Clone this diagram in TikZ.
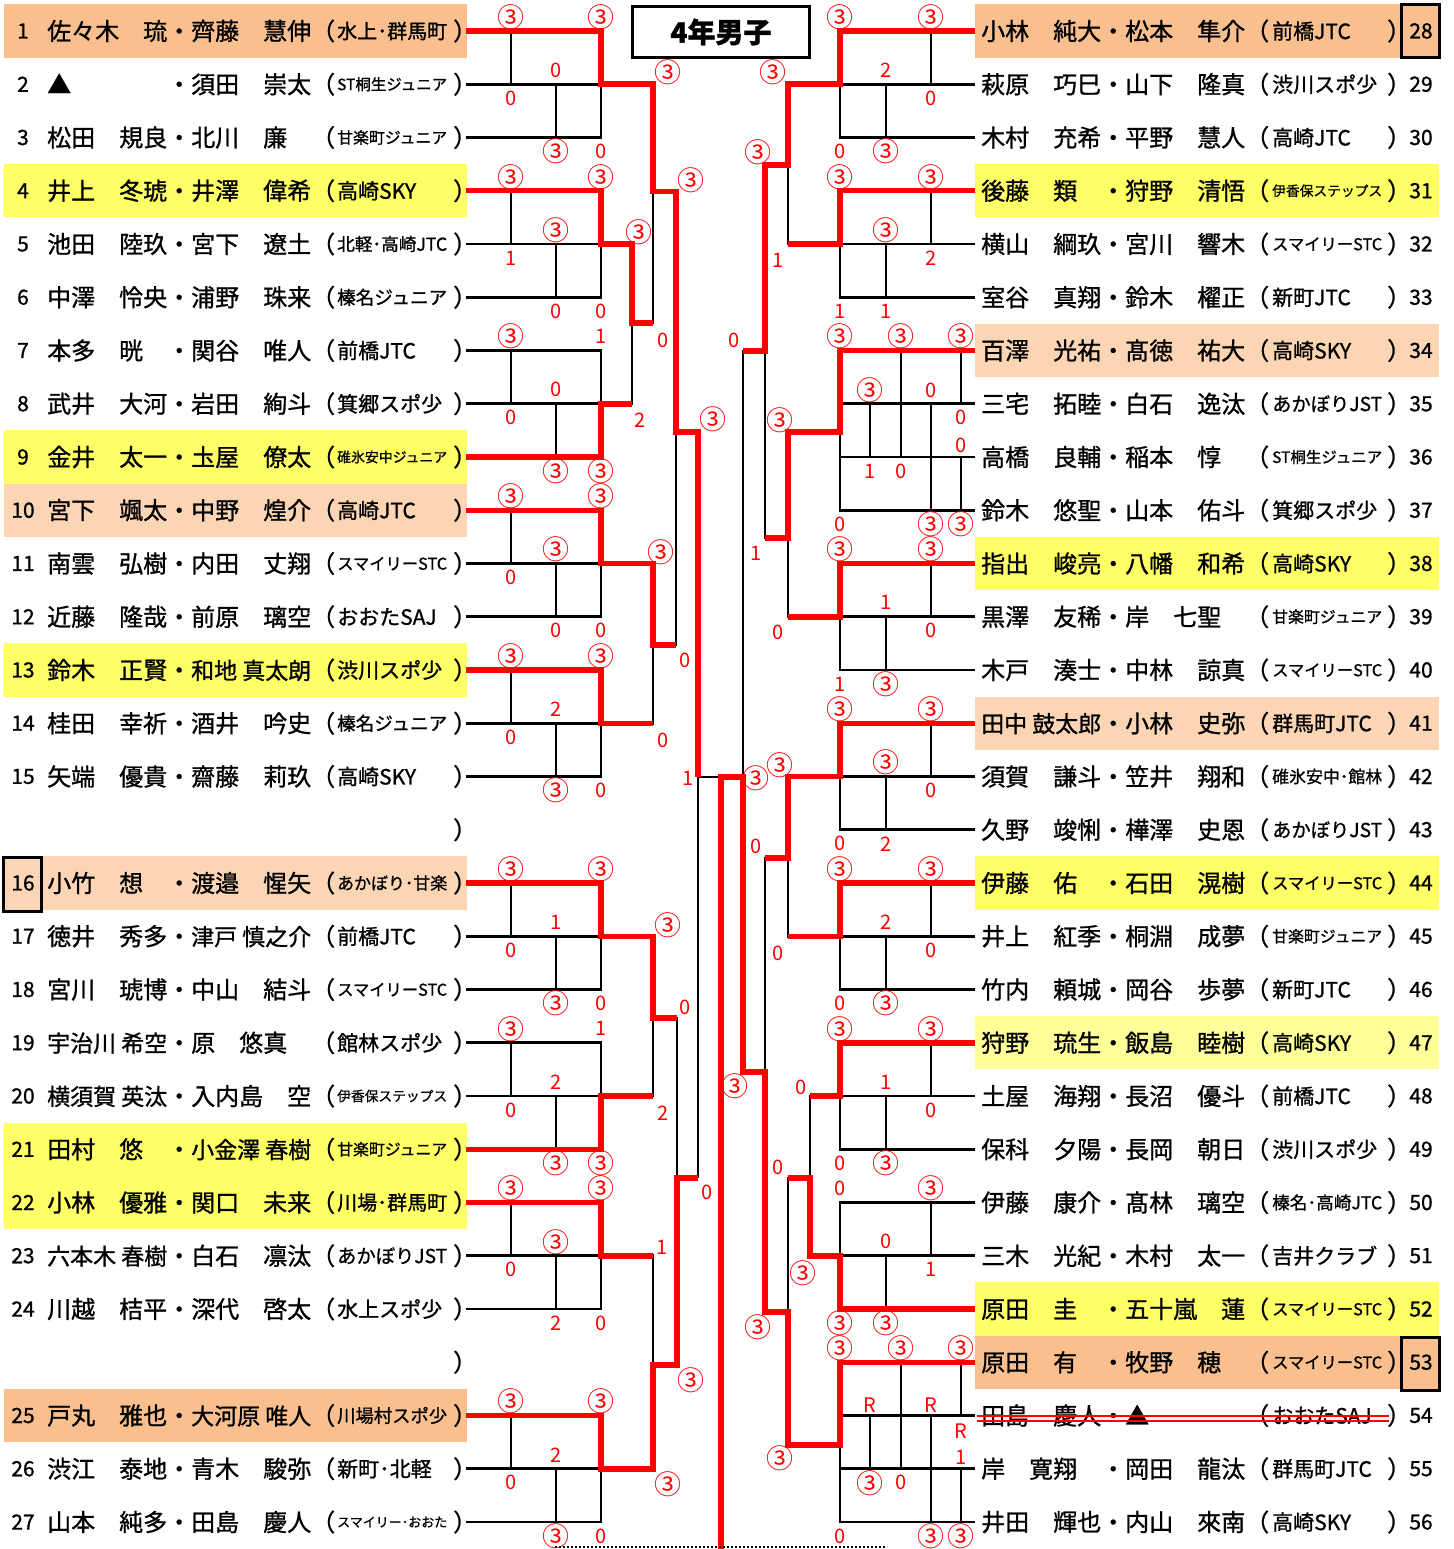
\documentclass[tikz,border=0pt]{standalone}
\usepackage{fontspec}
\setmainfont{Noto Sans CJK JP}[FakeBold=1]
\newfontfamily\scorefont{Noto Sans CJK JP}
\usepackage{graphicx}
\definecolor{seedorange}{HTML}{F9BF8F}
\definecolor{seedpeach}{HTML}{FCD5B4}
\definecolor{seedyellow}{HTML}{FFFF66}
\definecolor{paleyellow}{HTML}{FFFF99}
\definecolor{winred}{HTML}{FF0000}
\newsavebox\fitbox
\newcommand\fitto[2]{\sbox\fitbox{\vphantom{高}#2}%
  \ifdim\wd\fitbox>#1\relax\resizebox{#1}{!}{\usebox\fitbox}\else\usebox\fitbox\fi}
\newcommand\tw{{\fontsize{27}{27}\selectfont ③}}
\begin{document}
\begin{tikzpicture}[
    x=1pt,
    y=-1pt,
    bline/.style={line width=2.8pt, black},
    rline/.style={line width=5.5pt, winred, line join=miter},
    nametxt/.style={inner sep=0pt, anchor=west, font=\fontsize{24}{24}\selectfont, execute at begin node=\vphantom{高}},
    clubtxt/.style={inner sep=0pt, anchor=west, font=\fontsize{21}{21}\selectfont},
    numtxt/.style={inner sep=0pt, font=\fontsize{21}{21}\selectfont},
    score/.style={inner sep=0pt, text=winred, font=\scorefont\fontsize{20}{20}\selectfont},
    boxline/.style={line width=3pt, black}
  ]
\useasboundingbox (0,0) rectangle (1453,1549);
\fill[white] (0,0) rectangle (1453,1549);

% row backgrounds
\foreach \k/\col in {0/seedorange,3/seedyellow,8/seedyellow,9/seedpeach,12/seedyellow,16/seedpeach,21/seedyellow,22/seedyellow,26/seedorange}
  \fill[\col] (4,{4.4+53.25*\k}) rectangle (467,{57.6+53.25*\k});
\foreach \k/\col in {0/seedorange,3/seedyellow,6/seedpeach,10/seedyellow,13/seedpeach,16/seedyellow,19/paleyellow,24/seedyellow,25/seedorange}
  \fill[\col] (975,{4.4+53.25*\k}) rectangle (1439,{57.6+53.25*\k});

% row coordinates
\foreach \k in {0,...,28} {
  \pgfmathsetmacro\yy{31+53.25*\k}
  \coordinate (L\k) at (466,\yy);
  \coordinate (L\k-a) at (511,\yy);
  \coordinate (L\k-b) at (556,\yy);
  \coordinate (L\k-c) at (601,\yy);
  \coordinate (R\k) at (975,\yy);
  \coordinate (R\k-a) at (961,\yy);
  \coordinate (R\k-b) at (931,\yy);
  \coordinate (R\k-c) at (901,\yy);
  \coordinate (R\k-d) at (886,\yy);
  \coordinate (R\k-e) at (870,\yy);
  \coordinate (R\k-f) at (840,\yy);
}

% bracket junctions, left half
\coordinate (lm1-t) at (632,244);    \coordinate (lm1-o) at (632,323);    \coordinate (lm1-b) at (632,403.75);
\coordinate (lm2-t) at (653,84.25);  \coordinate (lm2-o) at (653,191.5);  \coordinate (lm2-b) at (653,323);
\coordinate (lm3-t) at (653,563.5);  \coordinate (lm3-o) at (653,645);    \coordinate (lm3-b) at (653,723.25);
\coordinate (lm4-t) at (676,191.5);  \coordinate (lm4-o) at (676,432);    \coordinate (lm4-b) at (676,645);
\coordinate (lm5-t) at (653,936.25); \coordinate (lm5-o) at (653,1018);   \coordinate (lm5-b) at (653,1096);
\coordinate (lm6-t) at (653,1255.75);\coordinate (lm6-o) at (653,1365);   \coordinate (lm6-b) at (653,1468.75);
\coordinate (lm7-t) at (677,1018);   \coordinate (lm7-o) at (677,1178);   \coordinate (lm7-b) at (677,1365);
\coordinate (lm8-t) at (698,432);    \coordinate (lm8-o) at (698,777);    \coordinate (lm8-b) at (698,1178);
% bracket junctions, right half
\coordinate (rC-o) at (840,432);     \coordinate (rI-o) at (840,1445);
\coordinate (rm1-t) at (788,84.25);  \coordinate (rm1-o) at (788,165);    \coordinate (rm1-b) at (788,244);
\coordinate (rm2-t) at (788,432);    \coordinate (rm2-o) at (788,538);    \coordinate (rm2-b) at (788,616.75);
\coordinate (rm3-t) at (765,165);    \coordinate (rm3-o) at (765,351);    \coordinate (rm3-b) at (765,538);
\coordinate (rm4-t) at (788,776.5);  \coordinate (rm4-o) at (788,858);    \coordinate (rm4-b) at (788,936.25);
\coordinate (rm5-t) at (810,1096);   \coordinate (rm5-o) at (810,1178);   \coordinate (rm5-b) at (810,1255.75);
\coordinate (rm6-t) at (788,1178);   \coordinate (rm6-o) at (788,1312);   \coordinate (rm6-b) at (788,1445);
\coordinate (rm7-t) at (765,858);    \coordinate (rm7-o) at (765,1072);   \coordinate (rm7-b) at (765,1312);
\coordinate (rm8-t) at (743,351);    \coordinate (rm8-o) at (743,777);    \coordinate (rm8-b) at (743,1072);
\coordinate (fin) at (721,777);      \coordinate (fin-end) at (721,1549);

% groups of three, left
\foreach \ta/\tb/\tc/\ua/\ub/\uc/\ud/\ue/\uf in {
    0/1/2/\tw/0/0/\tw/\tw/0, 3/4/5/\tw/1/\tw/0/\tw/0, 6/7/8/\tw/0/0/\tw/1/\tw,
    9/10/11/\tw/0/\tw/0/\tw/0, 12/13/14/\tw/0/2/\tw/\tw/0, 16/17/18/\tw/0/1/\tw/\tw/0,
    19/20/21/\tw/0/2/\tw/1/\tw, 22/23/24/\tw/0/\tw/2/\tw/0, 26/27/28/\tw/0/2/\tw/\tw/0} {
  \draw[bline] (L\ta) -- (L\ta-c) -- (L\tc-c) -- (L\tc) (L\tb) -- (L\tb-c)
    (L\ta-a) -- (L\tb-a) (L\tb-b) -- (L\tc-b);
  \node[score] (sl\ta-1) at ([yshift=14pt]L\ta-a) {\ua};
  \node[score] (sl\ta-2) at ([yshift=-14pt]L\tb-a) {\ub};
  \node[score] (sl\ta-3) at ([yshift=14pt]L\tb-b) {\uc};
  \node[score] (sl\ta-4) at ([yshift=-14pt]L\tc-b) {\ud};
  \node[score] (sl\ta-5) at ([yshift=14pt]L\ta-c) {\ue};
  \node[score] (sl\ta-6) at ([yshift=-14pt]L\tc-c) {\uf};
}
% groups of three, right
\foreach \ta/\tb/\tc/\ua/\ub/\uc/\ud/\ue/\uf in {
    0/1/2/\tw/0/2/\tw/\tw/0, 3/4/5/\tw/2/\tw/1/\tw/1, 10/11/12/\tw/0/1/\tw/\tw/1,
    13/14/15/\tw/0/\tw/2/\tw/0, 16/17/18/\tw/0/2/\tw/\tw/0, 19/20/21/\tw/0/1/\tw/\tw/0,
    22/23/24/\tw/1/0/\tw/0/\tw} {
  \draw[bline] (R\ta) -- (R\ta-f) -- (R\tc-f) -- (R\tc) (R\tb) -- (R\tb-f)
    (R\ta-b) -- (R\tb-b) (R\tb-d) -- (R\tc-d);
  \node[score] (sr\ta-1) at ([yshift=14pt]R\ta-b) {\ua};
  \node[score] (sr\ta-2) at ([yshift=-14pt]R\tb-b) {\ub};
  \node[score] (sr\ta-3) at ([yshift=14pt]R\tb-d) {\uc};
  \node[score] (sr\ta-4) at ([yshift=-14pt]R\tc-d) {\ud};
  \node[score] (sr\ta-5) at ([yshift=14pt]R\ta-f) {\ue};
  \node[score] (sr\ta-6) at ([yshift=-14pt]R\tc-f) {\uf};
}
% groups of four, right
\foreach \ta/\tb/\tc/\td in {6/7/8/9, 25/26/27/28} {
  \draw[bline] (R\ta) -- (R\ta-f) -- (R\td-f) -- (R\td) (R\tb) -- (R\tb-f) (R\tc) -- (R\tc-f)
    (R\tb-e) -- (R\tc-e) (R\ta-c) -- (R\tc-c) (R\tb-b) -- (R\td-b)
    (R\ta-a) -- (R\tb-a) (R\tc-a) -- (R\td-a);
}
\foreach \p/\dy/\t [count=\i] in {R6-f/14/\tw, R6-c/14/\tw, R6-a/14/\tw, R7-e/14/\tw, R7-b/13/0,
    R7-a/-14/0, R8-a/12/0, R8-e/-14/1, R8-c/-14/0, R9-f/-14/0, R9-b/-14/\tw, R9-a/-14/\tw,
    R25-f/14/\tw, R25-c/14/\tw, R25-a/14/\tw, R26-e/10/R, R26-b/10/R, R26-a/-16/R,
    R27-a/11/1, R27-e/-14/\tw, R27-c/-14/0, R28-f/-14/0, R28-b/-14/\tw, R28-a/-14/\tw}
  \node[score] (sq\i) at ([yshift=\dy pt]\p) {\t};

% bracket, black
\draw[bline] (L1-c) -- (lm2-t) -- (lm2-b) -- (lm1-o) (lm2-o) -- (lm4-t)
  (L4-c) -- (lm1-t) -- (lm1-b) -- (L7-c)
  (L10-c) -- (lm3-t) -- (lm3-b) -- (L13-c) (lm3-o) -- (lm4-b) -- (lm4-t)
  (lm4-o) -- (lm8-t) -- (lm8-b) (lm8-o) -- (fin)
  (L17-c) -- (lm5-t) -- (lm5-b) -- (L20-c) (lm5-o) -- (lm7-t) -- (lm7-b)
  (L23-c) -- (lm6-t) -- (lm6-b) -- (L27-c) (lm6-o) -- (lm7-b) (lm7-o) -- (lm8-b);
\draw[bline] (R1-f) -- (rm1-t) -- (rm1-b) -- (R4-f) (rm1-o) -- (rm3-t) -- (rm3-b) -- (rm2-o)
  (rC-o) -- (rm2-t) -- (rm2-b) -- (R11-f) (rm3-o) -- (rm8-t) -- (rm8-b) -- (rm7-o)
  (R14-f) -- (rm4-t) -- (rm4-b) -- (R17-f) (rm4-o) -- (rm7-t) -- (rm7-b) -- (rm6-o)
  (R20-f) -- (rm5-t) -- (rm5-b) -- (R23-f) (rm5-o) -- (rm6-t) -- (rm6-b) -- (rI-o);

% winners, red
\draw[rline] (L0) -- (L0-c) -- (L1-c) -- (lm2-t) -- (lm2-o) -- (lm4-t) -- (lm4-o) -- (lm8-t) -- (lm8-o);
\draw[rline] (L3) -- (L3-c) -- (L4-c) -- (lm1-t) -- (lm1-o) -- (lm2-b);
\draw[rline] (L8) -- (L8-c) -- (L7-c) -- (lm1-b);
\draw[rline] (L9) -- (L9-c) -- (L10-c) -- (lm3-t) -- (lm3-o) -- (lm4-b);
\draw[rline] (L12) -- (L12-c) -- (L13-c) -- (lm3-b);
\draw[rline] (L16) -- (L16-c) -- (L17-c) -- (lm5-t) -- (lm5-o) -- (lm7-t);
\draw[rline] (L21) -- (L21-c) -- (L20-c) -- (lm5-b);
\draw[rline] (L22) -- (L22-c) -- (L23-c) -- (lm6-t);
\draw[rline] (L26) -- (L26-c) -- (L27-c) -- (lm6-b) -- (lm6-o) -- (lm7-b) -- (lm7-o) -- (lm8-b);
\draw[rline] (R0) -- (R0-f) -- (R1-f) -- (rm1-t) -- (rm1-o) -- (rm3-t) -- (rm3-o) -- (rm8-t);
\draw[rline] (R3) -- (R3-f) -- (R4-f) -- (rm1-b);
\draw[rline] (R6) -- (R6-f) -- (rC-o) -- (rm2-t) -- (rm2-o) -- (rm3-b);
\draw[rline] (R10) -- (R10-f) -- (R11-f) -- (rm2-b);
\draw[rline] (R13) -- (R13-f) -- (R14-f) -- (rm4-t) -- (rm4-o) -- (rm7-t);
\draw[rline] (R16) -- (R16-f) -- (R17-f) -- (rm4-b);
\draw[rline] (R19) -- (R19-f) -- (R20-f) -- (rm5-t);
\draw[rline] (R24) -- (R24-f) -- (R23-f) -- (rm5-b) -- (rm5-o) -- (rm6-t);
\draw[rline] (R25) -- (R25-f) -- (rI-o) -- (rm6-b) -- (rm6-o) -- (rm7-b) -- (rm7-o) -- (rm8-b) -- (rm8-o) -- (fin) -- (fin-end);

% bracket scores
\foreach \x/\y/\t [count=\i] in {639/232/\tw, 640/420/2, 668/72/\tw, 663/340/0, 661/552/\tw, 663/740/0,
    691/180/\tw, 685/660/0, 713/419/\tw, 707/1192/0, 668/925/\tw, 663/1113/2, 662/1247/1, 668/1484/\tw,
    685/1007/0, 691/1380/\tw, 688/778/1, 773/72/\tw, 778/260/1, 780/420/\tw, 778/632/0, 758/152/\tw,
    756/553/1, 780/765/\tw, 778/953/0, 801/1087/0, 803/1273/\tw, 778/1167/0, 780/1458/\tw, 756/846/0,
    758/1327/\tw, 734/340/0, 735/1086/\tw, 756/778/\tw}
  \node[score] (sb\i) at (\x,\y) {\t};

% left entries
\foreach \k/\n/\fa/\fb/\cl in {
    0/1/佐々木　琉/齊藤　慧伸/水上･群馬町,
    1/2/▲/須田　崇太/ST桐生ジュニア,
    2/3/松田　規良/北川　廉/甘楽町ジュニア,
    3/4/井上　冬琥/井澤　偉希/高崎SKY,
    4/5/池田　陸玖/宮下　遼土/北軽･高崎JTC,
    5/6/中澤　怜央/浦野　珠来/榛名ジュニア,
    6/7/本多　晄/関谷　唯人/前橋JTC,
    7/8/武井　大河/岩田　絢斗/箕郷スポ少,
    8/9/金井　太一/圡屋　僚太/碓氷安中ジュニア,
    9/10/宮下　颯太/中野　煌介/高崎JTC,
    10/11/南雲　弘樹/内田　丈翔/スマイリーSTC,
    11/12/近藤　隆哉/前原　璃空/おおたSAJ,
    12/13/鈴木　正賢/和地 真太朗/渋川スポ少,
    13/14/桂田　幸祈/酒井　吟史/榛名ジュニア,
    14/15/矢端　優貴/齋藤　莉玖/高崎SKY,
    16/16/小竹　想/渡邉　惺矢/あかぼり･甘楽,
    17/17/徳井　秀多/津戸 慎之介/前橋JTC,
    18/18/宮川　琥博/中山　結斗/スマイリーSTC,
    19/19/宇治川 希空/原　悠真/館林スポ少,
    20/20/横須賀 英汰/入内島　空/伊香保ステップス,
    21/21/田村　悠/小金澤 春樹/甘楽町ジュニア,
    22/22/小林　優雅/関口　未来/川場･群馬町,
    23/23/六本木 春樹/白石　凛汰/あかぼりJST,
    24/24/川越　桔平/深代　啓太/水上スポ少,
    26/25/戸丸　雅也/大河原 唯人/川場村スポ少,
    27/26/渋江　泰地/青木　駿弥/新町･北軽,
    28/27/山本　純多/田島　慶人/スマイリー･おおた} {
  \pgfmathsetmacro\yy{31+53.25*\k}
  \node[numtxt] (ln\n) at (23,\yy) {\n};
  \node[nametxt] (lfa\n) at (47,\yy) {\fitto{120pt}{\fa}};
  \node[nametxt] (ldot\n) at (167,\yy) {・};
  \node[nametxt] (lfb\n) at (191,\yy) {\fitto{120pt}{\fb}};
  \node[nametxt] (lop\n) at (311,\yy) {（};
  \node[clubtxt] (lcl\n) at (337,\yy) {\fitto{110pt}{\cl}};
  \node[nametxt] (lcp\n) at (453,\yy) {）};
}
\node[nametxt] (lcpx) at (453,829.75) {）};
\node[nametxt] (lcpy) at (453,1362.25) {）};

% right entries
\foreach \k/\n/\fa/\fb/\cl in {
    0/28/小林　純大/松本　隼介/前橋JTC,
    1/29/萩原　巧巳/山下　隆真/渋川スポ少,
    2/30/木村　充希/平野　慧人/高崎JTC,
    3/31/後藤　類/狩野　清悟/伊香保ステップス,
    4/32/横山　綱玖/宮川　響木/スマイリーSTC,
    5/33/室谷　真翔/鈴木　櫂正/新町JTC,
    6/34/百澤　光祐/髙徳　祐大/高崎SKY,
    7/35/三宅　拓睦/白石　逸汰/あかぼりJST,
    8/36/高橋　良輔/稲本　惇/ST桐生ジュニア,
    9/37/鈴木　悠聖/山本　佑斗/箕郷スポ少,
    10/38/指出　峻亮/八幡　和希/高崎SKY,
    11/39/黒澤　友稀/岸　七聖/甘楽町ジュニア,
    12/40/木戸　湊士/中林　諒真/スマイリーSTC,
    13/41/田中 鼓太郎/小林　史弥/群馬町JTC,
    14/42/須賀　謙斗/笠井　翔和/碓氷安中･館林,
    15/43/久野　竣悧/樺澤　史恩/あかぼりJST,
    16/44/伊藤　佑/石田　滉樹/スマイリーSTC,
    17/45/井上　紅季/桐淵　成夢/甘楽町ジュニア,
    18/46/竹内　頼城/岡谷　歩夢/新町JTC,
    19/47/狩野　琉生/飯島　睦樹/高崎SKY,
    20/48/土屋　海翔/長沼　優斗/前橋JTC,
    21/49/保科　夕陽/長岡　朝日/渋川スポ少,
    22/50/伊藤　康介/髙林　璃空/榛名･高崎JTC,
    23/51/三木　光紀/木村　太一/吉井クラブ,
    24/52/原田　圭/五十嵐　蓮/スマイリーSTC,
    25/53/原田　有/牧野　穂/スマイリーSTC,
    26/54/田島　慶人/▲/おおたSAJ,
    27/55/岸　寛翔/岡田　龍汰/群馬町JTC,
    28/56/井田　輝也/内山　來南/高崎SKY} {
  \pgfmathsetmacro\yy{31+53.25*\k}
  \node[nametxt] (rfa\n) at (981,\yy) {\fitto{120pt}{\fa}};
  \node[nametxt] (rdot\n) at (1101,\yy) {・};
  \node[nametxt] (rfb\n) at (1125,\yy) {\fitto{120pt}{\fb}};
  \node[nametxt] (rop\n) at (1245,\yy) {（};
  \node[clubtxt] (rcl\n) at (1272,\yy) {\fitto{110pt}{\cl}};
  \node[nametxt] (rcp\n) at (1387,\yy) {）};
  \node[numtxt] (rn\n) at (1421,\yy) {\n};
}
% withdrawn pair
\draw[winred, line width=1.3pt] (977,1416) -- (1389,1416) (977,1421) -- (1389,1421);

% seed boxes and title
\draw[boxline] (3,857) rectangle (41,911);
\draw[boxline] (1401,5) rectangle (1439,58);
\draw[boxline] (1401,1337) rectangle (1439,1390);
\node[draw, line width=3pt, minimum width=177pt, minimum height=51pt, inner sep=0pt,
  font=\fontsize{28}{28}\selectfont\bfseries] (title) at (721,32) {4年男子};

% bottom rule
\coordinate (dotL) at (555,1547);
\coordinate (dotR) at (887,1547);
\draw[line width=2pt, dash pattern=on 2pt off 2pt] (dotL) -- (dotR);
\end{tikzpicture}
\end{document}
